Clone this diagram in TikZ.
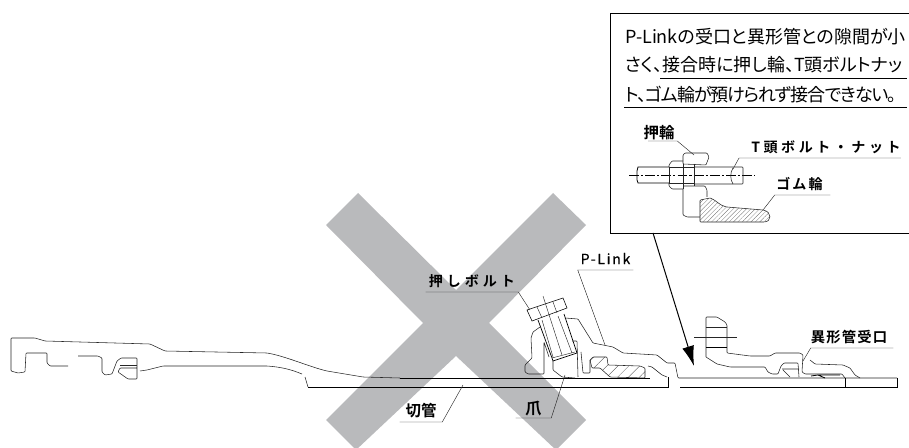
\documentclass[tikz,border=0pt]{standalone}
\usepackage{fontspec}
\setmainfont{Noto Sans CJK JP}
\newfontfamily\calloutfont[RawFeature=+palt]{Noto Sans CJK JP}
\newfontfamily\partfont{Noto Sans CJK JP Bold}
\usepackage{xcolor}
\usepackage{tikz}
\usetikzlibrary{arrows.meta}
\usetikzlibrary{patterns.meta}
\definecolor{crossgray}{HTML}{B9BABC}
\tikzset{
  outline/.style={rounded corners=0.2mm, line width=0.14mm, black!85},
  heavy/.style={line width=0.2mm, black},
  leader/.style={line width=0.11mm, black!85},
  axisline/.style={line width=0.11mm, black, dash pattern=on 7pt off 1.5pt on 1.5pt off 1.5pt},
  partlabel/.style={font=\partfont, inner xsep=0pt, inner ysep=1.4mm, text depth=0pt, anchor=south},
  calloutline/.style={font=\calloutfont\fontsize{12.8pt}{15pt}\selectfont, inner sep=0pt, anchor=base west},
  sparsehatch/.style={pattern={Lines[angle=45,distance=5.5pt,line width=0.2pt]}, pattern color=black!70},
  densehatch/.style={pattern={Lines[angle=45,distance=2.2pt,line width=0.15pt]}, pattern color=black!60},
}

\begin{document}
\begin{tikzpicture}[x=0.25mm,y=0.25mm]
\useasboundingbox (0,0) rectangle (909,-448);
\clip (0,0) rectangle (909,-448);
% cross
\fill [crossgray] (358,-193) -- (456,-290) -- (553,-193) -- (586,-225) -- (489,-323) -- (586,-420)
  -- (556,-450) -- (456,-356) -- (356,-450) -- (326,-420) -- (423,-323) -- (326,-225) -- cycle;

% callout
\node [draw, line width=0.3mm, inner sep=0pt, minimum width=77mm, minimum height=55mm, anchor=north west] (callout) at (610,-13) {};
\node [calloutline] (lineone) at (625,-44) {P-Linkの受口と異形管との隙間が小};
\node [calloutline] (linetwo) at (625,-72) {さく、接合時に押し輪、T頭ボルトナッ};
\node [calloutline, font=\calloutfont\fontsize{12.8pt}{15pt}\selectfont\addfontfeature{LetterSpace=-6}] (linethree) at (625,-102) {ト、ゴム輪が預けられず接合できない。};
\draw [line width=0.2mm] (660,-78) -- (907,-78);
\draw [line width=0.2mm] (624,-107) -- (907,-107);

% small detail
\draw [axisline] (629,-175) -- (755,-175);
\draw [heavy] (669,-167) -- (638,-167) -- (637,-171) -- (637,-180) -- (638,-183) -- (669,-183);
\draw [outline] (694,-167) -- (743,-167) -- (743,-184) -- (694,-184);
\draw [outline] (733,-168) .. controls (730,-172) and (730,-180) .. (733,-184);
\draw [outline] (669,-167) -- (669,-165) -- (672,-161) -- (683,-161);
\draw [outline] (669,-183) -- (669,-186) -- (672,-189) -- (683,-189);
\draw [outline] (669,-167) -- (669,-183) (683,-164) -- (683,-189) (694,-164) -- (694,-186) (669,-167) -- (694,-167) (669,-183) -- (694,-183);
\draw [outline] (683,-164) -- (683,-155) -- (685,-153) -- (707,-153) -- (709,-157) -- (706,-165) -- cycle;
\draw [outline] (683,-189) -- (683,-215) -- (687,-217) -- (700,-217);
\draw [outline] (683,-186) -- (705,-186) -- (707,-190) -- (707,-197);
\draw [outline, densehatch] (700,-222) -- (700,-200) -- (710,-198) .. controls (716,-200) and (720,-206) .. (727,-207)
  -- (763,-210) .. controls (772,-212) and (772,-222) .. (763,-222) -- cycle;
\node [partlabel, minimum width=7.5mm, inner ysep=0.5mm] (ringlabel) at (662,-141) {\kern-1.5mm\fontsize{11pt}{13pt}\selectfont 押輪};
\coordinate (ringtip) at (694,-155);
\draw [leader] (648,-141) -- (ringlabel.south east) -- (ringtip);
\node [partlabel, minimum width=40mm] (tboltlabel) at (820,-158) {\kern3mm\fontsize{10pt}{12pt}\selectfont\addfontfeature{LetterSpace=25}T頭ボルト・ナット};
\coordinate (tbolttip) at (733,-169);
\draw [leader] (tboltlabel.south east) -- (tboltlabel.south west) -- (tbolttip);
\node [partlabel, minimum width=13.75mm] (gasketlabel) at (802.5,-195) {\kern-1.5mm\fontsize{10pt}{12pt}\selectfont\addfontfeature{LetterSpace=14}ゴム輪};
\coordinate (gaskettip) at (763,-210);
\draw [leader] (gasketlabel.south east) -- (gasketlabel.south west) -- (gaskettip);

% pointer
\coordinate (calloutfoot) at (653,-233);
\coordinate (pointertip) at (694,-366);
\draw [line width=0.25mm, -{Latex[length=5mm,width=3mm]}] (calloutfoot) -- (pointertip);

% cut pipe
\draw [outline] (68,-366) -- (50,-366) -- (47,-363) -- (47,-353) -- (26,-353) -- (25,-372) -- (18,-373) -- (11,-371) -- (11,-338) -- (35,-338)
  -- (45,-341) -- (150,-344) -- (165,-351) -- (267,-353) .. controls (285,-356) and (310,-367) .. (327,-371) -- (363,-377) -- (400,-378);
\draw [outline] (78,-356) -- (98,-356) -- (102,-358) -- (102,-372) -- (105,-375) -- (112,-374) -- (117,-361) -- (121,-358) -- (137,-358) -- (137,-379) -- (128,-379) -- (118,-372) -- (120,-368) -- (137,-368);
\draw [outline] (120,-365) -- (137,-365);
\draw [outline] (140,-371) -- (147,-370) -- (163,-366) -- (267,-366) .. controls (280,-367) and (290,-369) .. (302,-374);
\draw [outline] (305,-377) -- (308,-387);
\draw [line width=0.18mm] (400,-378) -- (650,-378);
\draw [line width=0.18mm] (308,-387) -- (668,-387) -- (668,-377);

% bolt
\draw [line width=0.14mm] (527,-310) -- (563,-298) -- (567,-308) -- (532,-321) -- cycle;
\draw [leader] (537,-307) -- (542,-318) (553,-302) -- (557,-313);
\draw [line width=0.18mm] (538,-320) -- (552,-358) -- (553,-361) -- (577,-353) -- (564,-314);
\draw [leader] (542,-320) -- (553,-357) (558,-316) -- (572,-353) (552,-358) -- (575,-352);
\draw [leader] (543,-296) -- (562,-355);

% P-Link body
\draw [outline] (540,-327) -- (533,-332) -- (531,-338) -- (532,-358) -- (525,-365) -- (525,-372) -- (528,-374) -- (544,-374) -- (544,-342) -- (549,-357);
\draw [outline] (553,-361) -- (553,-370) -- (562,-377) -- (575,-378);
\draw [outline] (572,-341) -- (577,-341) -- (578,-377);
\draw [outline] (565,-318) -- (578,-319) -- (593,-343) -- (613,-347) -- (623,-353) -- (657,-355) -- (667,-363) -- (675,-363) -- (678,-378) -- (897,-378);
\draw [outline] (581,-352) -- (583,-373) -- (590,-373) -- (590,-360);
\draw [outline, sparsehatch] (592,-368) -- (590,-360) -- (593,-357) -- (607,-357) -- (608,-365) -- (640,-366) -- (645,-368) -- (645,-378) -- (610,-377) -- (600,-368) -- cycle;
\draw [outline] (648,-366) -- (652,-367) -- (662,-375) -- (667,-377);

% socket
\draw [outline] (706,-357) -- (706,-317) -- (717,-317) -- (725,-322) -- (727,-325) -- (727,-353) -- (750,-356) -- (770,-356) -- (775,-353) -- (800,-353) -- (803,-355) -- (802,-372) -- (805,-374) -- (842,-374) -- (845,-378);
\draw [outline] (706,-357) -- (717,-364) -- (730,-367) -- (765,-367) -- (768,-372) -- (772,-374) -- (778,-374) -- (781,-366) -- (784,-363) -- (798,-363) -- (799,-377);
\draw [leader] (706,-327) -- (727,-327);
\draw [heavy] (706,-347) -- (727,-347);
\draw [leader] (694,-337) -- (737,-337);
\draw [outline] (782,-369) -- (799,-369) (783,-370) -- (790,-377);
\draw [outline] (810,-360) -- (815,-364) -- (843,-365) -- (850,-368) -- (855,-375) -- (860,-378);
\draw [heavy] (811,-376) -- (818,-375) -- (825,-378) (818,-375) -- (840,-375);
\draw [line width=0.18mm] (680,-387) -- (897,-387) -- (897,-378);
\draw [line width=0.25mm] (845,-378) -- (845,-387);

% part labels
\node [partlabel, minimum width=23mm] (boltlabel) at (472,-292) {\fontsize{10pt}{12pt}\selectfont\addfontfeature{LetterSpace=28}押しボルト};
\coordinate (bolttip) at (530,-310);
\draw [leader] (boltlabel.south west) -- (boltlabel.south east) -- (bolttip);
\node [partlabel, minimum width=13.75mm, font=\rmfamily] (plinklabel) at (605.5,-270) {\fontsize{10pt}{12pt}\selectfont\addfontfeature{LetterSpace=12,FakeBold=0.6}P-Link};
\coordinate (plinktip) at (605,-345);
\draw [leader] (plinklabel.south east) -- (plinklabel.south west) -- (plinktip);
\node [partlabel, minimum width=8.75mm, inner ysep=0.7mm] (clawlabel) at (533.5,-418) {\fontsize{11.5pt}{13pt}\selectfont 爪};
\coordinate (clawtip) at (565,-375);
\draw [leader] (clawlabel.south west) -- (clawlabel.south east) -- (clawtip);
\node [partlabel, minimum width=10.5mm] (pipelabel) at (421,-422) {\fontsize{11pt}{13pt}\selectfont 切管};
\coordinate (pipetip) at (463,-385);
\draw [leader] (pipelabel.south west) -- (pipelabel.south east) -- (pipetip);
\node [partlabel, minimum width=20.5mm] (socketlabel) at (852,-348) {\kern-1.5mm\fontsize{10.2pt}{12pt}\selectfont\addfontfeature{LetterSpace=8}異形管受口};
\coordinate (sockettip) at (803,-361);
\draw [leader] (socketlabel.south east) -- (socketlabel.south west) -- (sockettip);
\end{tikzpicture}
\end{document}
